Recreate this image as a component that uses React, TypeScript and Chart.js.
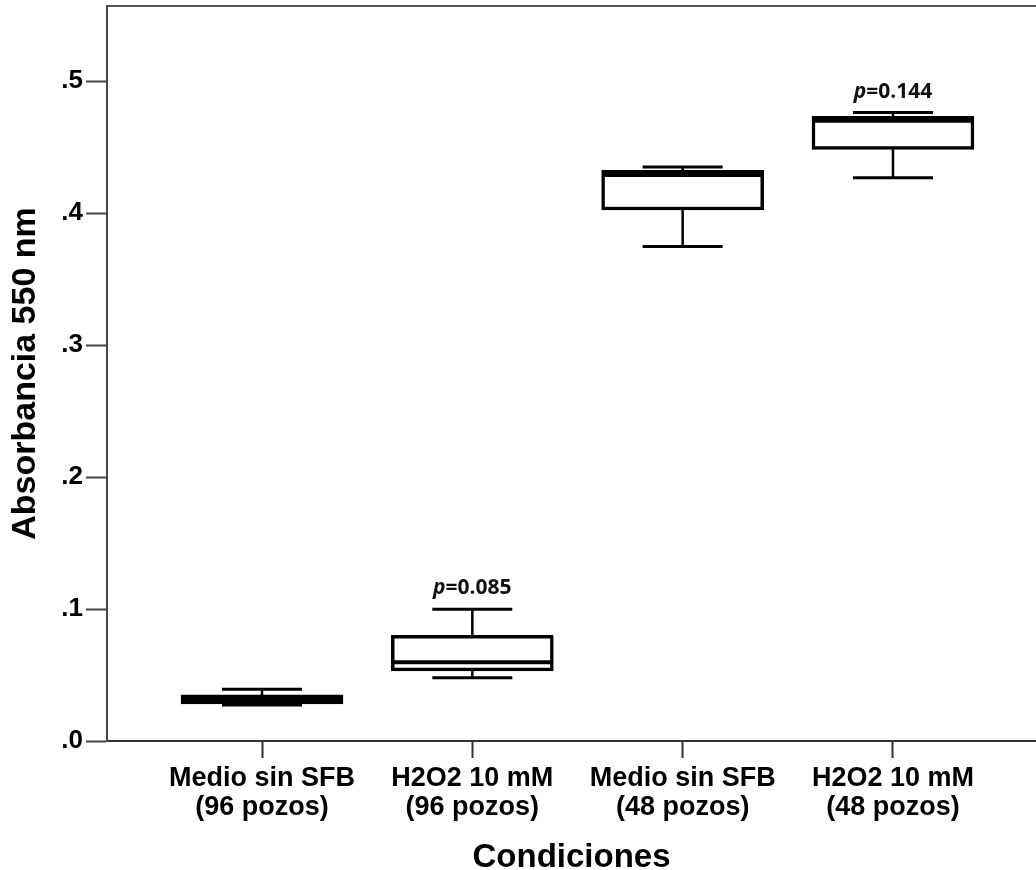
import React, { useEffect, useRef } from "react";
import { Chart, registerables } from "chart.js";

Chart.register(...registerables);

const positions = [1, 2, 3, 4];
const categoryLabels = [
  ["Medio sin SFB", "(96 pozos)"],
  ["H2O2 10 mM", "(96 pozos)"],
  ["Medio sin SFB", "(48 pozos)"],
  ["H2O2 10 mM", "(48 pozos)"],
];
const whiskerLow = [0.0272, 0.048, 0.3748, 0.4269];
const q1 = [0.0281, 0.0531, 0.4024, 0.4484];
const median = [0.0315, 0.0597, 0.429, 0.470];
const q3 = [0.0349, 0.080, 0.4325, 0.4734];
const whiskerHigh = [0.0392, 0.0999, 0.435, 0.4762];
const pValues = ["", "0.085", "", "0.144"];
const yTicks = [0, 0.1, 0.2, 0.3, 0.4, 0.5];

const FONT = "'Liberation Sans', Arial, sans-serif";

const boxPlugin = {
  id: "boxExtras",
  afterDatasetsDraw(chart: any) {
    const ctx = chart.ctx;
    const xs = chart.scales.x;
    const ys = chart.scales.y;
    ctx.save();
    ctx.strokeStyle = "#000";
    ctx.lineCap = "butt";
    positions.forEach((p, i) => {
      const cx = xs.getPixelForValue(p);
      const capHalf = 40;
      const yLo = ys.getPixelForValue(whiskerLow[i]);
      const yHi = ys.getPixelForValue(whiskerHigh[i]);
      const yQ1 = ys.getPixelForValue(q1[i]);
      const yQ3 = ys.getPixelForValue(q3[i]);
      const yMed = ys.getPixelForValue(median[i]);
      ctx.lineWidth = 2.5;
      ctx.beginPath();
      ctx.moveTo(cx, yQ3);
      ctx.lineTo(cx, yHi);
      ctx.moveTo(cx, yQ1);
      ctx.lineTo(cx, yLo);
      ctx.stroke();
      ctx.lineWidth = 3;
      ctx.beginPath();
      ctx.moveTo(cx - capHalf, yHi);
      ctx.lineTo(cx + capHalf, yHi);
      ctx.moveTo(cx - capHalf, yLo);
      ctx.lineTo(cx + capHalf, yLo);
      ctx.stroke();
      ctx.lineWidth = 4;
      ctx.beginPath();
      ctx.moveTo(cx - 80, yMed);
      ctx.lineTo(cx + 80, yMed);
      ctx.stroke();
      if (pValues[i]) {
        const y = yHi - 21;
        ctx.fillStyle = "#111";
        ctx.textBaseline = "middle";
        ctx.font = "italic bold 21px 'Open Sans', sans-serif";
        const pw = ctx.measureText("p").width;
        ctx.font = "bold 21px 'Open Sans', sans-serif";
        const rest = "=" + pValues[i];
        const rw = ctx.measureText(rest).width;
        const start = cx - (pw + rw) / 2;
        ctx.font = "italic bold 21px 'Open Sans', sans-serif";
        ctx.textAlign = "left";
        ctx.fillText("p", start, y);
        ctx.font = "bold 21px 'Open Sans', sans-serif";
        ctx.fillText(rest, start + pw, y);
      }
    });
    const a = chart.chartArea;
    ctx.strokeStyle = "#555";
    ctx.lineWidth = 2;
    ctx.beginPath();
    ctx.moveTo(a.left, a.top);
    ctx.lineTo(a.right + 2, a.top);
    ctx.stroke();
    ctx.restore();
  },
};

export default function App() {
  const ref = useRef<HTMLCanvasElement | null>(null);
  useEffect(() => {
    document.body.style.margin = "0";
    const canvas = ref.current!;
    const chart = new Chart(canvas, {
      type: "bar",
      data: {
        datasets: [
          {
            data: positions.map((p, i) => ({ x: p, y: [q1[i], q3[i]] })) as any,
            backgroundColor: "#fff",
            borderColor: "#000",
            borderWidth: 3.5,
            borderSkipped: false,
            barThickness: 162,
          },
        ],
      },
      options: {
        animation: false,
        responsive: false,
        maintainAspectRatio: false,
        layout: { padding: { top: 6, right: 0, left: 0, bottom: 0 } },
        plugins: { legend: { display: false }, tooltip: { enabled: false } },
        scales: {
          x: {
            type: "linear",
            offset: false,
            min: 0.263,
            max: 4.68,
            afterBuildTicks: (s: any) => {
              s.ticks = positions.map((v) => ({ value: v }));
            },
            afterFit: (s: any) => {
              s.height = 129;
              s.paddingLeft = 0;
              s.paddingRight = 0;
            },
            ticks: {
              autoSkip: false,
              maxRotation: 0,
              color: "#000",
              padding: 7,
              font: { family: FONT, size: 27, weight: "bold", lineHeight: 1.04 },
              callback: (v: any) => categoryLabels[Math.round(v) - 1] || "",
            },
            grid: {
              offset: false,
              drawOnChartArea: false,
              drawTicks: true,
              tickLength: 17,
              tickWidth: 2,
              tickColor: "#333",
            },
            border: { display: true, color: "#333", width: 2 },
            title: {
              display: true,
              text: "Condiciones",
              color: "#000",
              font: { family: FONT, size: 33, weight: "bold", lineHeight: 0.9 },
              padding: { top: 0, bottom: -3 },
            },
          },
          y: {
            type: "linear",
            min: 0,
            max: 0.557,
            afterBuildTicks: (s: any) => {
              s.ticks = yTicks.map((v) => ({ value: v }));
            },
            afterFit: (s: any) => {
              s.width = 107;
              s.paddingTop = 0;
              s.paddingBottom = 0;
            },
            ticks: {
              color: "#000",
              padding: 3,
              font: { family: FONT, size: 26, weight: "bold" },
              callback: (v: any) => Number(v).toFixed(1).replace(/^0/, ""),
            },
            grid: {
              drawOnChartArea: false,
              drawTicks: true,
              tickLength: 21,
              tickWidth: 2,
              tickColor: "#444",
            },
            border: { display: true, color: "#444", width: 2 },
            title: {
              display: true,
              text: "Absorbancia 550 nm",
              color: "#000",
              font: { family: FONT, size: 34, weight: "bold", lineHeight: 1.2 },
              padding: { top: 5, bottom: 0 },
            },
          },
        },
      } as any,
      plugins: [boxPlugin],
    });
    return () => chart.destroy();
  }, []);
  return (
    <div style={{ width: 1036, height: 870, background: "#fff" }}>
      <canvas ref={ref} width={1036} height={870} style={{ display: "block" }} />
    </div>
  );
}
